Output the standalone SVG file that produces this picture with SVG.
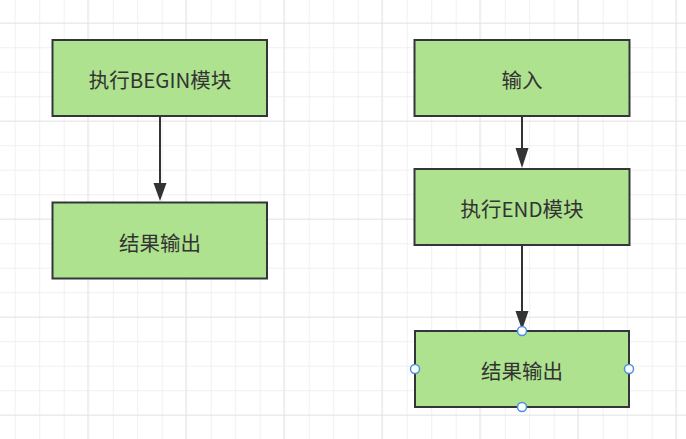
<svg xmlns="http://www.w3.org/2000/svg" width="686" height="439" viewBox="0 0 686 439">
<style>
.box{fill:#aee28f;stroke:#333638;stroke-width:2}
.lbl{font-family:"Noto Sans CJK SC","Microsoft YaHei",sans-serif;font-size:20.5px;fill:#333;text-anchor:middle;dominant-baseline:central}
.edge{stroke:#333;stroke-width:2;fill:none}
.handle{fill:#fff;stroke:#4a90e2;stroke-width:1.5}
</style>
<defs>
<pattern id="minor" x="14.7" y="22.7" width="24.5" height="24.5" patternUnits="userSpaceOnUse">
<path d="M0 0H24.5M0 0V24.5" stroke="#ebebeb" stroke-width="1.5" fill="none"/>
</pattern>
<pattern id="major" x="-10.7" y="22.7" width="98" height="98" patternUnits="userSpaceOnUse">
<path d="M0 0H98M0 0V98" stroke="#e2e2e2" stroke-width="1.5" fill="none"/>
</pattern>
</defs>
<rect width="686" height="439" fill="#fff"/>
<rect width="686" height="439" fill="url(#minor)"/>
<rect width="686" height="439" fill="url(#major)"/>
<g id="connectors">
<path class="edge" d="M160 117V184"/>
<path d="M153.5 183L166.5 183L160 201Z" fill="#333"/>
<path class="edge" d="M522 117V149"/>
<path d="M515.5 148L528.5 148L522 168Z" fill="#333"/>
<path class="edge" d="M522 246V312"/>
<path d="M515.5 311L528.5 311L522 330Z" fill="#333"/>
</g>
<g id="n1"><rect class="box" x="52.5" y="40" width="214.5" height="76"/><text class="lbl" x="160" y="79">执行BEGIN模块</text></g>
<g id="n2"><rect class="box" x="52.5" y="202.5" width="214.5" height="76"/><text class="lbl" x="160" y="242">结果输出</text></g>
<g id="n3"><rect class="box" x="414.5" y="40" width="215" height="76"/><text class="lbl" x="522" y="79">输入</text></g>
<g id="n4"><rect class="box" x="414.5" y="169" width="215" height="76"/><text class="lbl" x="522" y="208">执行END模块</text></g>
<g id="n5"><rect class="box" x="415" y="331" width="214" height="76"/><text class="lbl" x="522" y="370">结果输出</text>
<circle class="handle" cx="522" cy="331" r="4.5"/><circle class="handle" cx="415" cy="369" r="4.5"/><circle class="handle" cx="629" cy="369" r="4.5"/><circle class="handle" cx="522" cy="407" r="4.5"/></g>
</svg>
